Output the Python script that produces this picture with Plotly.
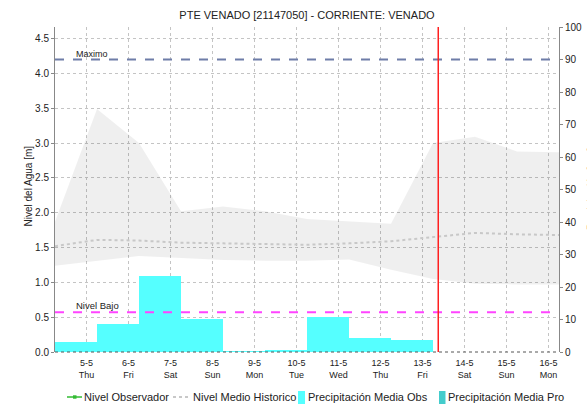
import plotly.graph_objects as go
import pandas as pd

# --- data -----------------------------------------------------------------
# daily labels on the time axis (ticks at midnight)
tick_days = ["2022-05-05", "2022-05-06", "2022-05-07", "2022-05-08", "2022-05-09",
             "2022-05-10", "2022-05-11", "2022-05-12", "2022-05-13", "2022-05-14",
             "2022-05-15", "2022-05-16"]
tick_labels = ["5-5<br>Thu", "6-5<br>Fri", "7-5<br>Sat", "8-5<br>Sun", "9-5<br>Mon",
               "10-5<br>Tue", "11-5<br>Wed", "12-5<br>Thu", "13-5<br>Fri", "14-5<br>Sat",
               "15-5<br>Sun", "16-5<br>Mon"]

# historical envelope and mean level, sampled daily at 06:00
hist_times = pd.date_range("2022-05-04 06:00", "2022-05-16 06:00", freq="D")
hist_upper = [1.87, 3.49, 3.00, 2.02, 2.09, 2.02, 1.91, 1.88, 1.84, 3.00, 3.09, 2.88, 2.87]
hist_lower = [1.24, 1.31, 1.38, 1.35, 1.32, 1.31, 1.31, 1.33, 1.18, 1.05, 0.98, 0.97, 0.97]
hist_mean = [1.52, 1.61, 1.60, 1.57, 1.56, 1.55, 1.54, 1.56, 1.59, 1.65, 1.71, 1.69, 1.68]

# observed daily precipitation [mm], each bar covers 06:00 -> 06:00
precip_start = pd.date_range("2022-05-04 06:00", periods=9, freq="D")
precip_obs = [3.0, 8.6, 23.3, 10.2, 0.3, 0.5, 10.7, 4.2, 3.8]

nivel_maximo = 4.2
nivel_bajo = 0.57
forecast_start = "2022-05-13 09:00"

x_range = ["2022-05-04 06:00", "2022-05-16 06:00"]
y_max = nivel_maximo / 0.9

legend_names = ["Nivel Observador", "Nivel Medio Historico",
                "Precipitación Media Obs", "Precipitación Media Pro"]

# --- figure -----------------------------------------------------------------
FONT = "Liberation Sans, Arial, sans-serif"
DAY_MS = 86400000
W, H = 587, 404
ML, MR, MT, MB = 55, 28, 27, 52
PW, PH = W - ML - MR, H - MT - MB

C_OBS_LEVEL = "#33BB33"
C_MEAN = "#C8C8C8"
C_PRECIP_OBS = "#55FFFF"
C_PRECIP_PRO = "#44CCCC"


def px_x(px):
    """pixel column -> paper x"""
    return (px - ML) / PW


def px_y(py):
    """pixel row -> paper y"""
    return (H - MB - py) / PH


fig = go.Figure()

# envelope band
fig.add_trace(go.Scatter(
    x=hist_times, y=hist_lower, mode="lines", line=dict(width=0),
    showlegend=False, hoverinfo="skip",
))
fig.add_trace(go.Scatter(
    x=hist_times, y=hist_upper, mode="lines", line=dict(width=0),
    fill="tonexty", fillcolor="rgba(0,0,0,0.062)",
    showlegend=False, hoverinfo="skip",
))

fig.add_trace(go.Scatter(
    x=hist_times, y=hist_mean, mode="lines", name=legend_names[1],
    line=dict(color=C_MEAN, width=2, dash="dot"), showlegend=False,
))

bar_centers = precip_start + pd.Timedelta(hours=12)
fig.add_trace(go.Bar(
    x=bar_centers, y=precip_obs, width=[DAY_MS] * len(precip_obs),
    name=legend_names[2], yaxis="y2", showlegend=False,
    marker=dict(color=C_PRECIP_OBS, line=dict(width=0)),
))

# reference levels and forecast boundary
fig.add_shape(type="line", xref="paper", x0=0, x1=1, yref="y", y0=nivel_maximo, y1=nivel_maximo,
              line=dict(color="#6E7DA8", width=2, dash="dash"))
fig.add_shape(type="line", xref="paper", x0=0, x1=1, yref="y", y0=nivel_bajo, y1=nivel_bajo,
              line=dict(color="#FF44FF", width=2, dash="dash"))
fig.add_shape(type="line", xref="x", x0=forecast_start, x1=forecast_start,
              yref="paper", y0=0, y1=1, line=dict(color="#FF2020", width=1.5))
fig.add_shape(type="line", xref="paper", x0=0, x1=1, yref="paper", y0=0, y1=0,
              line=dict(color="#555555", width=1, dash="dot"))

fig.add_annotation(text="Maximo", xref="paper", x=px_x(74), xanchor="left",
                   yref="y", y=nivel_maximo, yanchor="bottom", yshift=-1,
                   showarrow=False, font=dict(family=FONT, size=9, color="#222"))
fig.add_annotation(text="Nivel Bajo", xref="paper", x=px_x(74), xanchor="left",
                   yref="y", y=nivel_bajo, yanchor="bottom", yshift=-1,
                   showarrow=False, font=dict(family=FONT, size=9.5, color="#222"))

# axis titles
fig.add_annotation(text="Nivel del Agua [m]", xref="paper", x=px_x(27.5), xanchor="center",
                   yref="paper", y=px_y(186), yanchor="middle", textangle=-90,
                   showarrow=False, font=dict(family=FONT, size=10, color="#222"))
fig.add_annotation(text="Precipitación [mm]", xref="paper", x=px_x(584), xanchor="left",
                   yref="paper", y=0.5, yanchor="middle", textangle=-90,
                   showarrow=False, font=dict(family=FONT, size=10, color="#222"))

# legend row under the axis
LEG_Y = 397
leg_font = dict(family=FONT, size=11, color="#222")
fig.add_shape(type="line", xref="paper", yref="paper",
              x0=px_x(67), x1=px_x(82), y0=px_y(LEG_Y), y1=px_y(LEG_Y),
              line=dict(color=C_OBS_LEVEL, width=1.5))
fig.add_shape(type="rect", xref="paper", yref="paper",
              x0=px_x(73), x1=px_x(76.5), y0=px_y(LEG_Y - 1.7), y1=px_y(LEG_Y + 1.7),
              line=dict(width=0), fillcolor=C_OBS_LEVEL)
fig.add_shape(type="line", xref="paper", yref="paper",
              x0=px_x(173), x1=px_x(190), y0=px_y(LEG_Y), y1=px_y(LEG_Y),
              line=dict(color=C_MEAN, width=2, dash="dot"))
fig.add_shape(type="rect", xref="paper", yref="paper",
              x0=px_x(298), x1=px_x(305), y0=px_y(391), y1=px_y(404),
              line=dict(width=0), fillcolor=C_PRECIP_OBS)
fig.add_shape(type="rect", xref="paper", yref="paper",
              x0=px_x(439), x1=px_x(445.5), y0=px_y(391), y1=px_y(404),
              line=dict(width=0), fillcolor=C_PRECIP_PRO)
for name, tx in zip(legend_names, [82, 191, 306, 446]):
    fig.add_annotation(text=name, xref="paper", x=px_x(tx), xanchor="left",
                       yref="paper", y=px_y(LEG_Y), yanchor="middle",
                       showarrow=False, font=leg_font)

fig.update_layout(
    width=W, height=H,
    margin=dict(l=ML, r=MR, t=MT, b=MB, autoexpand=False),
    paper_bgcolor="white", plot_bgcolor="white",
    font=dict(family=FONT, size=10, color="#222"),
    title=dict(text="PTE VENADO [21147050] - CORRIENTE: VENADO",
               x=0.5, xref="paper", xanchor="center",
               y=1 - 15 / H, yref="container", yanchor="middle",
               font=dict(family=FONT, size=11, color="#222")),
    bargap=0,
    showlegend=False,
    xaxis=dict(
        type="date", range=x_range, automargin=False,
        tickmode="array", tickvals=tick_days, ticktext=tick_labels,
        showgrid=True, gridcolor="#C4C4C4", griddash="dot", gridwidth=1,
        showline=False, ticks="", zeroline=False, ticklabelstandoff=4,
        tickfont=dict(family=FONT, size=9, color="#222"),
    ),
    yaxis=dict(
        range=[0, y_max], tick0=0, dtick=0.5, tickformat=".1f", automargin=False,
        showgrid=True, gridcolor="#C4C4C4", griddash="dot", gridwidth=1,
        showline=True, linecolor="#888888", linewidth=1,
        ticks="outside", ticklen=3, tickcolor="#888888",
        zeroline=False,
        tickfont=dict(family=FONT, size=10, color="#222"),
    ),
    yaxis2=dict(
        overlaying="y", side="right", range=[0, 100], tick0=0, dtick=10,
        automargin=False,
        showgrid=False, zeroline=False,
        showline=True, linecolor="#888888", linewidth=1,
        ticks="outside", ticklen=3, tickcolor="#888888",
        tickfont=dict(family=FONT, size=10, color="#222"),
    ),
)

fig.write_html("out.html")
